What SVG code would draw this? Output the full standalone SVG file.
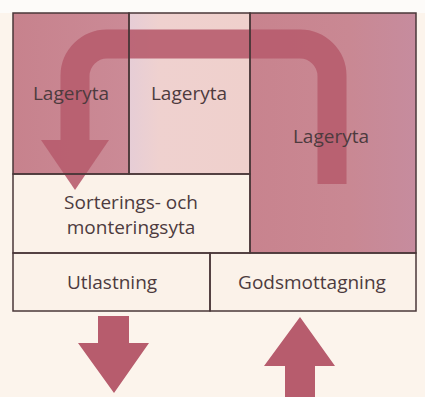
<svg xmlns="http://www.w3.org/2000/svg" width="425" height="397" viewBox="0 0 425 397">
<defs>
<linearGradient id="gR" x1="0" y1="0" x2="1" y2="0">
<stop offset="0" stop-color="#c8838e"/>
<stop offset="0.6" stop-color="#c98893"/>
<stop offset="1" stop-color="#c68c9e"/>
</linearGradient>
<linearGradient id="gM" x1="0" y1="0" x2="1" y2="0">
<stop offset="0" stop-color="#e6cdd6"/>
<stop offset="0.25" stop-color="#efd1cf"/>
<stop offset="1" stop-color="#efd0cc"/>
</linearGradient>
<linearGradient id="gL" x1="0" y1="0" x2="1" y2="0">
<stop offset="0" stop-color="#c7828d"/>
<stop offset="1" stop-color="#cb8a96"/>
</linearGradient>
</defs>
<style>
.box{stroke:#4a3739;stroke-width:1.5;fill:none}
.lbl{font-family:"Open Sans","Noto Sans",sans-serif;font-size:19px;fill:#4d3b3e;text-anchor:middle}
.arr{fill:#b75c6d}
</style>
<rect x="0" y="0" width="425" height="397" fill="#fcf4ec"/>
<rect x="0" y="0" width="425" height="13" fill="#fdfbf9"/>
<rect x="13" y="13" width="116" height="161" fill="url(#gL)"/>
<rect x="129" y="13" width="121" height="161" fill="url(#gM)"/>
<rect x="250" y="13" width="166" height="240" fill="url(#gR)"/>
<rect x="13" y="174" width="237" height="137" fill="#fbf2e9"/>
<rect x="210" y="253" width="206" height="58" fill="#fbf2e9"/>
<g id="connectors">
<g opacity="0.9">
<path d="M75,141 V76 A32,32 0 0 1 107,44 H300 A32,32 0 0 1 332,76 V184" fill="none" stroke="#b85d6e" stroke-width="29"/>
<polygon points="41,140 109,140 75,190" fill="#b85d6e"/>
</g>
<polygon class="arr" points="98,316 129,316 129,343 149,343 114,393 78,343 98,343"/>
<polygon class="arr" points="300,317 335,366 315,366 315,397 285,397 285,366 264,366"/>
</g>
<g id="lager1">
<rect class="box" x="13" y="13" width="116" height="161"/>
<text class="lbl" x="71" y="100">Lageryta</text>
</g>
<g id="lager2">
<rect class="box" x="129" y="13" width="121" height="161"/>
<text class="lbl" x="189" y="100">Lageryta</text>
</g>
<g id="lager3">
<rect class="box" x="250" y="13" width="166" height="240"/>
<text class="lbl" x="331" y="143">Lageryta</text>
</g>
<g id="sortering">
<rect class="box" x="13" y="174" width="237" height="79"/>
<text class="lbl" x="131" y="209">Sorterings- och</text>
<text class="lbl" x="131" y="234">monteringsyta</text>
</g>
<g id="utlastning">
<rect class="box" x="13" y="253" width="197" height="58"/>
<text class="lbl" x="112" y="289">Utlastning</text>
</g>
<g id="godsmottagning">
<rect class="box" x="210" y="253" width="206" height="58"/>
<text class="lbl" x="312" y="289">Godsmottagning</text>
</g>
</svg>
